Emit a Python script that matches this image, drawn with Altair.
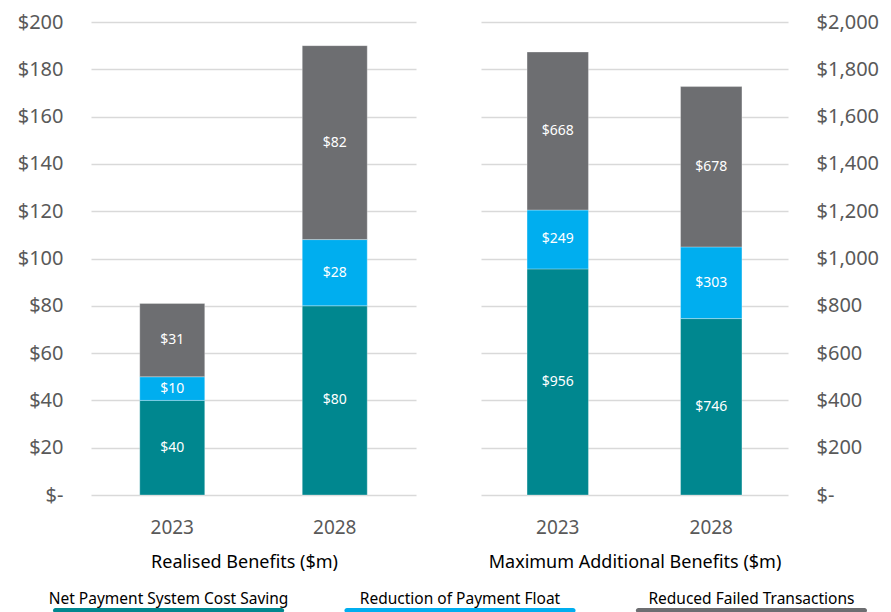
import altair as alt
import pandas as pd

years = ["2023", "2028"]
categories = ["Net Payment System Cost Saving", "Reduction of Payment Float", "Reduced Failed Transactions"]
colors = ["#00878F", "#00AEEF", "#6D6E71"]

realised_cost = [40, 80]
realised_float = [10, 28]
realised_failed = [31, 82]

maximum_cost = [956, 746]
maximum_float = [249, 303]
maximum_failed = [668, 678]

FONT = "Noto Sans"
LABEL_COLOR = "#595959"


def make_df(series):
    rows = []
    for ci, (cat, vals) in enumerate(zip(categories, series)):
        for y, v in zip(years, vals):
            rows.append({"year": y, "category": cat, "value": v, "ord": ci,
                         "label": "$" + format(v, ",")})
    return pd.DataFrame(rows)


df_left = make_df([realised_cost, realised_float, realised_failed])
df_right = make_df([maximum_cost, maximum_float, maximum_failed])

color_scale = alt.Scale(domain=categories, range=colors)
label_expr = "datum.value == 0 ? '$-\u00a0\u00a0\u00a0' : '$' + format(datum.value, ',')"
label_expr_r = "datum.value == 0 ? '$-' : '$' + format(datum.value, ',')"


def panel(df, ymax, step, orient, width, title, expr, title_x):
    axis_kw = dict(title=title, labelAngle=0, labelFontSize=19,
                   labelColor=LABEL_COLOR, labelFont=FONT,
                   labelPadding=23, ticks=False, domain=False,
                   titleFont=FONT, titleFontSize=18,
                   titleFontWeight="normal", titleColor="#000000",
                   titlePadding=16)
    if title_x is not None:
        axis_kw["titleX"] = title_x
    base = alt.Chart(df).encode(
        x=alt.X("year:N", sort=years,
                scale=alt.Scale(paddingInner=0.6, paddingOuter=0.3),
                axis=alt.Axis(**axis_kw))
    )
    bars = base.mark_bar(stroke="white", strokeWidth=0.5, strokeOpacity=0.6).encode(
        y=alt.Y("value:Q", stack="zero",
                scale=alt.Scale(domain=[0, ymax], nice=False),
                axis=alt.Axis(orient=orient, title=None,
                              values=list(range(0, ymax + 1, step)),
                              labelExpr=expr, labelFontSize=20,
                              labelFont=FONT, labelColor=LABEL_COLOR,
                              labelPadding=28, ticks=False, domain=False,
                              grid=True, gridColor="#D9D9D9", gridWidth=1.5)),
        color=alt.Color("category:N", scale=color_scale, legend=None),
        order=alt.Order("ord:Q"),
    )
    text = base.transform_stack(
        stack="value", groupby=["year"], sort=[alt.SortField("ord")], as_=["y0", "y1"]
    ).transform_calculate(
        mid="(datum.y0 + datum.y1) / 2"
    ).mark_text(color="white", fontSize=14, font=FONT).encode(
        y=alt.Y("mid:Q"),
        text="label:N",
    )
    return alt.layer(bars, text).properties(width=width, height=473)


left = panel(df_left, 200, 20, "left", 325, "Realised Benefits ($m)", label_expr, 153)
right = panel(df_right, 2000, 200, "right", 307, "Maximum Additional Benefits ($m)", label_expr_r, None)

legend_df = pd.DataFrame({"category": categories})
leg_base = alt.Chart(legend_df).encode(
    x=alt.X("category:N", sort=categories, axis=None,
            scale=alt.Scale(paddingInner=0.207, paddingOuter=0, range=[-38, 776])),
)
leg_text = leg_base.mark_text(fontSize=15.5, font=FONT, color="#000000", baseline="middle").encode(
    y=alt.value(8), text="category:N"
)
leg_bar = leg_base.mark_bar(cornerRadius=3).encode(
    y=alt.value(17), y2=alt.value(22),
    color=alt.Color("category:N", scale=color_scale, legend=None),
)
legend = alt.layer(leg_bar, leg_text).properties(width=732, height=22)

chart = alt.vconcat(
    alt.hconcat(left, right, spacing=65),
    legend,
    spacing=20,
).properties(
    padding={"left": 9, "top": 4, "right": 0, "bottom": 0}
).configure_view(stroke=None)

chart.save("out.html", embed_options={"renderer": "svg", "actions": False})
